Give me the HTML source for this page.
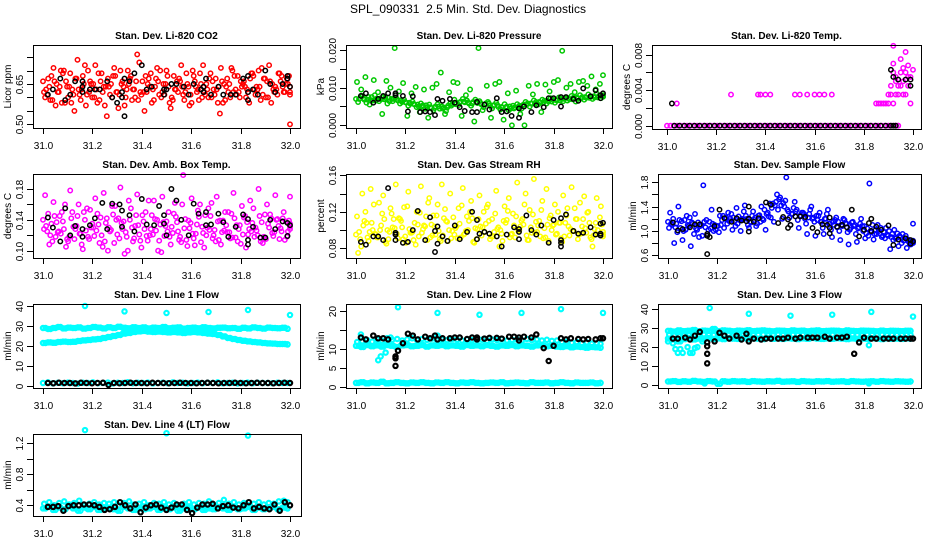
<!DOCTYPE html>
<html><head><meta charset="utf-8"><style>
body{margin:0;background:#fff;}
svg{display:block;font-family:"Liberation Sans",Arial,sans-serif;}
</style></head><body>
<svg id="chart" width="936" height="540" viewBox="0 0 936 540">
<rect width="936" height="540" fill="#fff"/>
<text x="468" y="13" text-anchor="middle" font-size="12">SPL_090331&#160; 2.5 Min. Std. Dev. Diagnostics</text>
</svg>
<script>
// ---------- data ----------
const xTicks=[31.0,31.2,31.4,31.6,31.8,32.0];
const xTickLabels=["31.0","31.2","31.4","31.6","31.8","32.0"];

const co2A=[0.66,0.61,0.68,0.57,0.64,0.70,0.60,0.63,0.67,0.59,0.72,0.62,0.65,0.58,0.69,0.64,0.61,0.71,0.56,0.66,0.63,0.68,0.60,0.73,0.62,0.65,0.58,0.67,0.70,0.61,0.64,0.59,0.66,0.72,0.62,0.57,0.68,0.63,0.60,0.65,0.69,0.61,0.64,0.58,0.67,0.71,0.63,0.60,0.66,0.62,0.69,0.64,0.59,0.67,0.72,0.63,0.61,0.68,0.65,0.62];
const co2B=[0.62,0.67,0.59,0.65,0.70,0.58,0.64,0.61,0.74,0.63,0.57,0.66,0.60,0.69,0.62,0.53,0.65,0.68,0.61,0.64,0.70,0.59,0.66,0.62,0.55,0.67,0.63,0.71,0.60,0.65,0.58,0.68,0.62,0.64,0.69,0.61,0.66,0.59,0.72,0.63,0.60,0.67,0.54,0.65,0.62,0.70,0.61,0.66,0.64,0.58,0.68,0.63,0.71,0.60,0.66,0.62,0.69,0.64,0.67,0.61];
const co2C=[0.60,0.64,0.71,0.62,0.58,0.66,0.69,0.55,0.63,0.68,0.61,0.65,0.72,0.59,0.64,0.67,0.60,0.62,0.70,0.57,0.65,0.63,0.76,0.61,0.68,0.64,0.59,0.66,0.62,0.70,0.56,0.63,0.67,0.61,0.65,0.58,0.64,0.69,0.62,0.60,0.66,0.63,0.71,0.59,0.65,0.62,0.68,0.64,0.60,0.67,0.63,0.70,0.61,0.66,0.58,0.64,0.69,0.62,0.65,0.50];
const co2D=[0.63,0.59,0.66,0.62,0.69,0.64,0.58,0.67,0.61,0.65,0.70,0.60,0.63,0.66,0.57,0.64,0.68,0.62,0.65,0.60,0.67,0.63,0.59,0.66,0.62,0.69,0.64,0.61,0.65,0.68,0.60,0.63,0.66,0.59,0.64,0.70,0.62,0.65,0.61,0.67,0.63,0.58,0.66,0.64,0.60,0.68,0.62,0.65,0.63,0.69,0.61,0.64,0.67,0.60,0.65,0.63,0.66,0.62,0.68,0.64];
const co2Black=[[31.02,0.61],[31.04,0.63],[31.07,0.67],[31.09,0.59],[31.11,0.61],[31.13,0.66],[31.16,0.64],[31.16,0.66],[31.16,0.62],[31.19,0.63],[31.21,0.63],[31.23,0.63],[31.26,0.66],[31.28,0.60],[31.30,0.58],[31.32,0.60],[31.32,0.62],[31.33,0.67],[31.33,0.53],[31.35,0.66],[31.37,0.69],[31.40,0.72],[31.42,0.63],[31.44,0.64],[31.49,0.63],[31.49,0.61],[31.50,0.63],[31.52,0.65],[31.54,0.65],[31.57,0.64],[31.59,0.61],[31.61,0.65],[31.64,0.63],[31.65,0.64],[31.65,0.62],[31.66,0.67],[31.68,0.61],[31.71,0.64],[31.73,0.61],[31.76,0.61],[31.78,0.61],[31.81,0.67],[31.83,0.62],[31.83,0.59],[31.83,0.68],[31.85,0.63],[31.87,0.61],[31.90,0.70],[31.92,0.65],[31.94,0.62],[31.97,0.65],[31.99,0.68],[31.99,0.67],[32.0,0.64]];

const presA=[0.0070,0.0072,0.0068,0.0075,0.0066,0.0071,0.0069,0.0073,0.0064,0.0070,0.0066,0.0062,0.0060,0.0057,0.0055,0.0050,0.0053,0.0048,0.0046,0.0050,0.0044,0.0047,0.0052,0.0056,0.0060,0.0063,0.0061,0.0058,0.0062,0.0059,0.0055,0.0058,0.0052,0.0054,0.0049,0.0047,0.0050,0.0045,0.0048,0.0052,0.0055,0.0058,0.0057,0.0062,0.0060,0.0065,0.0063,0.0068,0.0066,0.0070,0.0072,0.0069,0.0074,0.0071,0.0075,0.0073,0.0077,0.0074,0.0078,0.0076];
const presB=[0.0062,0.0078,0.0060,0.0066,0.0080,0.0064,0.0075,0.0058,0.0070,0.0074,0.0058,0.0068,0.0052,0.0063,0.0048,0.0058,0.0044,0.0055,0.0040,0.0056,0.0050,0.0038,0.0058,0.0068,0.0054,0.0070,0.0066,0.0052,0.0068,0.0064,0.0048,0.0062,0.0045,0.0060,0.0042,0.0056,0.0040,0.0052,0.0056,0.0044,0.0062,0.0050,0.0066,0.0055,0.0068,0.0058,0.0072,0.0060,0.0074,0.0064,0.0066,0.0078,0.0063,0.0080,0.0068,0.0082,0.0070,0.0084,0.0072,0.0080];
const presC=[0.0115,0.0095,0.0128,0.0055,0.0120,0.0088,0.0030,0.0118,0.0100,0.0205,0.0090,0.0112,0.0025,0.0085,0.0102,0.0035,0.0095,0.0020,0.0100,0.0110,0.0140,0.0030,0.0088,0.0115,0.0112,0.0025,0.0080,0.0095,0.0010,0.0205,0.0040,0.0105,0.0020,0.0110,0.0115,0.0015,0.0085,0.0000,0.0092,0.0030,0.0000,0.0105,0.0082,0.0110,0.0035,0.0108,0.0090,0.0115,0.0120,0.0198,0.0100,0.0110,0.0088,0.0115,0.0118,0.0105,0.0130,0.0095,0.0110,0.0133];
const presBlack=[[31.02,0.0078],[31.04,0.0085],[31.07,0.006],[31.09,0.007],[31.11,0.0078],[31.13,0.0085],[31.16,0.008],[31.16,0.0085],[31.19,0.0078],[31.21,0.0037],[31.23,0.0077],[31.26,0.0035],[31.28,0.0037],[31.30,0.0035],[31.32,0.0027],[31.33,0.007],[31.35,0.0065],[31.38,0.007],[31.40,0.006],[31.42,0.0048],[31.44,0.0038],[31.47,0.0035],[31.49,0.0062],[31.49,0.0035],[31.52,0.0055],[31.54,0.0042],[31.57,0.0072],[31.59,0.0035],[31.61,0.0037],[31.63,0.0025],[31.66,0.0045],[31.66,0.002],[31.68,0.005],[31.71,0.0035],[31.73,0.0053],[31.76,0.0048],[31.78,0.0072],[31.80,0.0072],[31.83,0.0075],[31.83,0.0050],[31.85,0.0075],[31.88,0.0070],[31.90,0.0065],[31.92,0.0098],[31.95,0.0077],[31.97,0.0093],[31.99,0.0080],[31.99,0.0072],[32.0,0.0085]];

const tempBase=[0,0,0,0,0,0,0,0,0,0,0,0,0,0,0,0,0,0,0,0,0,0,0,0,0,0,0,0,0,0,0,0,0,0,0,0,0,0,0,0,0,0,0,0,0,0,0,0,0,0,0,0,0,0,0,0,0,0,0,0,0,0,0,0,0,0,0,0,0,0];
const tempPts=[[31.04,0.0025],[31.26,0.0035],[31.37,0.0035],[31.38,0.0035],[31.40,0.0035],[31.42,0.0035],[31.52,0.0035],[31.54,0.0035],[31.57,0.0035],[31.60,0.0035],[31.62,0.0035],[31.64,0.0035],[31.67,0.0035],[31.85,0.0025],[31.86,0.0025],[31.87,0.0025],[31.88,0.0025],[31.89,0.0025],[31.90,0.0025],[31.91,0.0035],[31.91,0.0045],[31.92,0.009],[31.92,0.006],[31.92,0.007],[31.93,0.0035],[31.93,0.005],[31.94,0.0045],[31.94,0.0035],[31.95,0.0075],[31.95,0.006],[31.96,0.0035],[31.96,0.005],[31.97,0.0083],[31.97,0.006],[31.98,0.0045],[31.98,0.0068],[31.99,0.0055],[31.99,0.0025],[32.0,0.0063],[31.96,0.0065],[31.90,0.0035],[31.92,0.0025],[31.93,0.0055],[31.97,0.0035],[31.98,0.0055],[31.95,0.0045],[31.94,0],[31.93,0]];
const tempBlackBase=[0,0,0,0,0,0,0,0,0,0,0,0,0,0,0,0,0,0,0,0,0,0,0,0,0,0,0,0,0,0,0,0,0,0,0,0,0,0,0,0,0,0,0,0,0];
const tempBlackPts=[[31.02,0.0025],[31.91,0.0063],[31.92,0.0055],[31.94,0.0052],[31.97,0.0052],[31.99,0.0052],[31.99,0.0045],[31.92,0]];

const boxA=[0.140,0.125,0.135,0.118,0.145,0.128,0.112,0.150,0.132,0.122,0.140,0.115,0.130,0.148,0.120,0.136,0.125,0.110,0.142,0.128,0.118,0.155,0.132,0.121,0.138,0.113,0.146,0.126,0.134,0.119,0.150,0.123,0.137,0.111,0.141,0.129,0.116,0.152,0.131,0.120,0.145,0.127,0.114,0.139,0.124,0.148,0.117,0.133,0.143,0.121,0.136,0.126,0.112,0.147,0.130,0.119,0.141,0.125,0.138,0.135];
const boxB=[0.128,0.148,0.112,0.137,0.122,0.160,0.118,0.131,0.145,0.108,0.126,0.153,0.119,0.134,0.105,0.142,0.127,0.158,0.116,0.138,0.100,0.130,0.146,0.113,0.128,0.165,0.121,0.140,0.098,0.132,0.118,0.148,0.125,0.160,0.114,0.136,0.107,0.144,0.123,0.130,0.162,0.112,0.139,0.126,0.150,0.117,0.133,0.109,0.145,0.128,0.155,0.120,0.137,0.115,0.147,0.124,0.132,0.142,0.118,0.128];
const boxC=[0.172,0.108,0.163,0.124,0.150,0.105,0.178,0.115,0.160,0.102,0.155,0.130,0.168,0.110,0.175,0.100,0.158,0.140,0.182,0.096,0.165,0.112,0.173,0.104,0.150,0.120,0.165,0.100,0.170,0.138,0.108,0.162,0.114,0.198,0.106,0.168,0.122,0.160,0.104,0.155,0.116,0.170,0.108,0.150,0.124,0.175,0.112,0.158,0.104,0.165,0.118,0.180,0.110,0.160,0.142,0.172,0.115,0.150,0.125,0.170];
const boxD=[0.132,0.120,0.145,0.125,0.138,0.115,0.142,0.128,0.122,0.150,0.118,0.135,0.126,0.143,0.112,0.130,0.147,0.121,0.136,0.124,0.140,0.116,0.133,0.146,0.119,0.128,0.141,0.113,0.137,0.125,0.131,0.144,0.118,0.129,0.139,0.122,0.134,0.111,0.146,0.127,0.120,0.138,0.124,0.133,0.116,0.142,0.128,0.121,0.137,0.125,0.130,0.145,0.118,0.135,0.123,0.140,0.129,0.114,0.139,0.131];
const boxBlack=[[31.02,0.143],[31.04,0.130],[31.07,0.112],[31.09,0.155],[31.11,0.120],[31.13,0.132],[31.16,0.128],[31.16,0.118],[31.19,0.133],[31.21,0.142],[31.24,0.162],[31.26,0.128],[31.28,0.161],[31.31,0.160],[31.32,0.152],[31.32,0.131],[31.35,0.146],[31.37,0.125],[31.40,0.167],[31.42,0.134],[31.45,0.133],[31.47,0.158],[31.49,0.146],[31.49,0.135],[31.50,0.120],[31.52,0.180],[31.54,0.165],[31.56,0.140],[31.59,0.120],[31.61,0.161],[31.63,0.148],[31.66,0.150],[31.66,0.133],[31.68,0.134],[31.71,0.148],[31.73,0.137],[31.75,0.118],[31.78,0.131],[31.81,0.147],[31.83,0.141],[31.83,0.114],[31.83,0.108],[31.85,0.131],[31.88,0.117],[31.90,0.117],[31.92,0.140],[31.94,0.128],[31.97,0.138],[31.99,0.119],[31.99,0.136],[32.0,0.133]];

const rhA=[0.095,0.090,0.110,0.088,0.100,0.092,0.105,0.087,0.098,0.112,0.091,0.103,0.086,0.097,0.108,0.093,0.101,0.089,0.106,0.095,0.090,0.113,0.088,0.099,0.104,0.092,0.096,0.110,0.087,0.101,0.094,0.107,0.090,0.098,0.103,0.088,0.111,0.095,0.092,0.100,0.106,0.089,0.097,0.109,0.093,0.102,0.088,0.105,0.096,0.091,0.108,0.094,0.099,0.090,0.104,0.097,0.092,0.101,0.095,0.093];
const rhB=[0.115,0.082,0.120,0.098,0.128,0.092,0.118,0.085,0.124,0.102,0.113,0.090,0.126,0.097,0.084,0.119,0.105,0.130,0.094,0.116,0.088,0.123,0.100,0.114,0.091,0.127,0.099,0.120,0.086,0.112,0.103,0.125,0.093,0.118,0.082,0.110,0.121,0.096,0.115,0.104,0.128,0.089,0.117,0.098,0.122,0.092,0.113,0.106,0.120,0.087,0.116,0.101,0.124,0.095,0.112,0.119,0.090,0.108,0.114,0.098];
const rhC=[0.075,0.140,0.108,0.145,0.096,0.130,0.138,0.100,0.118,0.150,0.112,0.125,0.142,0.098,0.120,0.148,0.104,0.135,0.116,0.128,0.150,0.110,0.140,0.095,0.124,0.146,0.115,0.132,0.102,0.138,0.120,0.128,0.112,0.143,0.100,0.126,0.135,0.118,0.152,0.110,0.140,0.122,0.156,0.105,0.132,0.145,0.116,0.128,0.108,0.138,0.124,0.147,0.112,0.130,0.137,0.120,0.082,0.135,0.126,0.095];
const rhD=[0.098,0.105,0.092,0.108,0.095,0.100,0.112,0.090,0.103,0.096,0.110,0.093,0.101,0.089,0.106,0.097,0.115,0.092,0.104,0.099,0.094,0.109,0.091,0.102,0.107,0.095,0.100,0.113,0.090,0.104,0.098,0.110,0.093,0.101,0.096,0.108,0.092,0.105,0.099,0.112,0.094,0.103,0.097,0.110,0.091,0.106,0.100,0.095,0.108,0.093,0.104,0.099,0.112,0.096,0.102,0.108,0.094,0.100,0.106,0.098];
const rhBlack=[[31.02,0.087],[31.04,0.084],[31.07,0.093],[31.09,0.093],[31.11,0.089],[31.13,0.146],[31.16,0.097],[31.16,0.095],[31.16,0.089],[31.19,0.086],[31.21,0.087],[31.23,0.100],[31.25,0.121],[31.28,0.089],[31.30,0.114],[31.32,0.099],[31.33,0.104],[31.33,0.085],[31.32,0.076],[31.35,0.093],[31.37,0.088],[31.40,0.105],[31.42,0.090],[31.45,0.098],[31.47,0.120],[31.49,0.111],[31.49,0.090],[31.50,0.096],[31.52,0.098],[31.54,0.096],[31.57,0.093],[31.59,0.082],[31.61,0.095],[31.64,0.103],[31.66,0.101],[31.66,0.098],[31.66,0.090],[31.69,0.116],[31.71,0.100],[31.73,0.095],[31.75,0.105],[31.78,0.086],[31.80,0.111],[31.83,0.113],[31.83,0.089],[31.83,0.086],[31.83,0.082],[31.85,0.117],[31.88,0.099],[31.90,0.096],[31.92,0.097],[31.95,0.103],[31.97,0.095],[31.99,0.096],[31.99,0.107],[32.0,0.108],[31.99,0.094]];

const flowA=[1.15,1.10,1.12,1.05,1.18,1.08,1.12,1.02,1.10,1.06,1.15,1.00,1.08,1.18,1.22,1.20,1.16,1.24,1.18,1.20,1.14,1.22,1.26,1.18,1.30,1.38,1.48,1.55,1.40,1.32,1.28,1.35,1.25,1.20,1.28,1.22,1.18,1.15,1.20,1.12,1.10,1.15,1.08,1.12,1.05,1.10,1.06,1.00,1.04,0.98,1.02,0.96,0.98,0.92,0.95,0.88,0.90,0.85,0.82,0.84];
const flowB=[1.05,1.20,0.98,1.16,1.02,1.22,0.95,1.14,0.92,1.18,1.04,1.10,0.98,1.25,1.12,1.28,1.08,1.18,1.32,1.10,1.25,1.08,1.15,1.35,1.24,1.45,1.60,1.42,1.50,1.22,1.38,1.18,1.30,1.12,1.35,1.15,1.25,1.05,1.28,1.02,1.18,1.00,1.20,0.98,1.14,0.95,1.12,1.08,0.92,1.10,0.95,1.05,0.88,1.00,0.85,0.96,0.80,0.92,0.78,0.80];
const flowC=[1.30,0.80,1.40,0.85,1.25,0.75,1.28,0.90,1.75,0.95,1.35,1.02,1.25,1.05,1.30,1.02,1.38,1.00,1.42,1.05,1.32,1.12,1.40,1.02,1.45,1.15,1.35,1.20,1.88,1.10,1.48,1.05,1.30,0.95,1.40,0.92,1.30,0.95,1.35,0.90,1.22,0.85,1.18,0.78,1.15,0.82,1.20,0.88,1.78,0.86,1.10,0.90,1.05,0.70,1.02,0.75,0.95,0.72,0.78,1.12];
const flowD=[1.12,1.06,1.18,1.00,1.10,1.14,1.04,1.08,1.15,1.02,1.12,1.08,1.10,1.20,1.16,1.22,1.12,1.20,1.25,1.15,1.18,1.25,1.20,1.28,1.22,1.42,1.52,1.46,1.35,1.28,1.32,1.25,1.28,1.22,1.20,1.25,1.15,1.20,1.12,1.15,1.06,1.10,1.12,1.02,1.08,1.04,1.08,0.96,1.00,0.95,1.00,0.92,0.94,0.90,0.88,0.92,0.84,0.86,0.80,0.82];
const flowBlack=[[31.02,1.14],[31.04,1.01],[31.06,1.03],[31.09,1.06],[31.11,1.11],[31.13,1.11],[31.16,0.95],[31.16,0.92],[31.16,0.62],[31.17,0.90],[31.19,1.08],[31.21,1.35],[31.23,1.21],[31.26,1.15],[31.28,1.21],[31.30,1.17],[31.32,1.16],[31.33,1.40],[31.33,1.20],[31.33,0.99],[31.35,1.15],[31.37,1.21],[31.40,1.47],[31.42,1.43],[31.45,1.13],[31.47,1.23],[31.49,1.05],[31.49,1.19],[31.50,1.10],[31.52,1.24],[31.54,1.24],[31.56,1.23],[31.59,1.05],[31.61,0.98],[31.63,1.11],[31.65,1.10],[31.66,1.05],[31.66,0.96],[31.66,1.22],[31.69,1.07],[31.71,1.10],[31.73,1.06],[31.75,1.35],[31.78,0.91],[31.80,1.02],[31.82,1.13],[31.83,1.00],[31.83,1.20],[31.85,1.07],[31.87,1.02],[31.90,1.09],[31.92,0.77],[31.94,0.86],[31.97,0.88],[31.99,0.85],[31.99,0.79],[32.0,0.83]];

const l1Top=[29,28.5,29,29.5,28.8,29.2,29,29.3,28.7,29,29.5,29.2,28.8,29.4,29,29.6,29.1,28.9,29.4,29,29.3,28.8,29.2,29,29.5,28.9,29.1,29.3,28.7,29,29.2,28.9,29.4,29,28.8,29.1,29.2,28.9,29,28.6,29.1,28.8,29.3,29,28.7,29.2,29,28.9,29.1,28.6];
const l1Mid=[21.5,21.8,21.6,22,22.2,22,22.1,22.5,22.8,23,23.3,23.5,24,24.5,25,25.5,26.2,26.5,27,27.3,27.5,27.2,27,27.2,27,26.8,27,26.8,26.5,26.8,27,26.8,26.5,26.2,26,25.5,24.8,24,23.5,23,22.6,22.3,22,21.8,21.5,21.3,21.2,21,21,20.8];
const l1Low=[1.5,1.8,1.3,1.6,1.4,1.7,1.5,1.2,1.6,1.5,1.8,1.4,1.5,1.7,1.3,1.6,1.5,1.9,1.4,1.6,1.5,1.7,1.3,1.5,1.6,1.4,1.8,1.5,1.6,1.3,1.5,1.7,1.4,1.6,1.5,1.8,1.4,1.5,1.6,1.3,1.5,1.7,1.4,1.6,1.5,1.5,1.4,1.6,1.5,1.5];
const l1Out=[[31.17,40],[31.33,37.3],[31.5,36.5],[31.67,37],[31.83,38],[32.0,35.5]];
const l1Black=[1.5,1.4,1.6,1.5,1.5,1.3,1.6,1.5,1.4,1.5,1.6,0.5,1.5,1.4,1.5,1.6,1.5,1.5,1.4,1.6,1.5,1.5,1.4,1.5,1.6,1.5,1.5,1.4,1.5,1.6,1.5,1.4,1.5,1.5,1.6,1.5,1.4,1.5,1.6,1.5,1.5,1.4,1.5,1.6,1.5];

const l2A=[10.8,10.5,11,10.7,10.9,10.6,11,10.8,10.5,10.9,11,10.7,10.8,11,10.6,10.9,10.8,11,10.7,10.9,10.8,10.6,11,10.8,10.9,10.7,11,10.8,10.6,10.9,10.8,11,10.7,10.9,10.8,10.6,10.9,11,10.7,10.8,10.6,10.5,10.7,10.4,10.6,10.5,10.3,10.5,10.4,10.3];
const l2B=[11.8,12,12.3,11.9,12.5,12.1,12.8,12.4,12.6,12.2,12.5,12.8,12.3,12.6,12.4,12.7,12.2,12.5,12.3,12.6,12.4,12.2,12.5,12.3,12.6,12.4,12.1,12.5,12.3,12.6,12.2,12.4,12.5,12.2,12.6,12.3,12.5,12.2,12.4,12.1,12.2,11.8,11.9,11.6,11.8,11.5,11.7,11.4,11.5,11.3];
const l2Low=[1,1.2,0.9,1.1,1,1.3,0.9,1,1.2,1,0.9,1.1,1,1.2,1,0.9,1.1,1,1.2,1,0.9,1.1,1,1.2,1,0.9,1,1.1,1,1.2,0.9,1,1.1,1,0.9,1.2,1,1,1.1,0.9,1,1.2,1,0.9,1.1,1,1,1.1,0.9,1];
const l2Out=[[31.17,21],[31.33,19.5],[31.5,19],[31.67,19.5],[31.83,20.5],[32.0,19.5],[31.02,13.8],[31.09,7],[31.10,8],[31.12,9],[31.14,13],[31.33,13.5]];
const l2Black=[[31.02,13],[31.04,12.5],[31.07,13.5],[31.09,12.8],[31.11,12.8],[31.13,12.5],[31.16,8],[31.16,7.5],[31.16,5.5],[31.17,9.5],[31.19,11.5],[31.21,14],[31.23,13.5],[31.25,12.5],[31.28,13.2],[31.30,12.8],[31.32,13.5],[31.33,12.5],[31.35,12.8],[31.38,12.8],[31.40,13],[31.42,13],[31.45,12.6],[31.47,13],[31.49,13],[31.49,12.5],[31.52,12.7],[31.54,12.9],[31.57,12.9],[31.59,12.7],[31.62,13.2],[31.64,13.2],[31.66,13],[31.66,12.2],[31.68,13.2],[31.71,13],[31.73,13.8],[31.76,10.2],[31.78,6.8],[31.80,10.8],[31.83,12.8],[31.85,12.5],[31.87,12.8],[31.90,12.6],[31.92,12.5],[31.94,12.6],[31.97,12.5],[31.99,12.8],[32.0,12.8]];

const l3A=[28.5,28.2,28.8,28.4,28.6,29,28.3,28.7,28.5,29.5,28.4,28.8,28.6,28.3,28.7,28.5,28.9,28.4,28.6,28.8,28.5,28.3,28.7,28.6,28.4,28.8,28.5,28.7,28.3,28.6,28.8,28.4,28.5,28.7,28.6,28.3,28.8,28.5,28.4,28.7,28.6,28.5,28.3,28.7,28.4,28.6,28.5,28.4,28.6,28.5];
const l3B=[26.5,26,25.8,26.4,26.2,26.6,25.9,26.8,26.5,26.3,26.7,26.4,26.6,26.2,26.8,26.5,26.3,26.7,26.4,26.6,26.2,26.5,26.8,26.3,26.6,26.4,26.7,26.5,26.2,26.6,26.4,26.8,26.3,26.5,26.7,26.2,26.6,26.4,26.5,26.3,26.7,26.5,26.2,26.6,26.4,26.5,26.3,26.6,26.4,26.5];
const l3C=[24.5,24,23,24.2,24.8,24,24.5,24.3,24.8,24.4,24.6,24.2,24.8,24.5,24.3,24.7,24.4,24.6,24.5,24.2,24.8,24.4,24.6,24.3,24.7,24.5,24.2,24.6,24.4,24.8,24.5,24.3,24.6,24.4,24.7,24.5,24.2,24.6,24.4,24.5,24.3,24.7,24.5,24.2,24.6,24.4,24.5,24.3,24.6,24.5];
const l3Low=[2,2.2,1.8,2.1,1.9,2.3,2,1.8,2.2,2,0.8,2.1,1.9,2.2,2,2.1,1.8,2.2,2,1.9,2.1,2,2.3,1.9,2,2.1,1.8,2.2,2,1.9,2.1,2,2.2,1.9,2,2.1,1.8,2.2,2,1.9,2,2.1,1.9,2.2,2,1.9,2.1,2,1.9,2];
const l3Out=[[31.17,40.5],[31.33,37.5],[31.5,36.5],[31.67,37],[31.83,38.5],[32.0,36],[31.0,23],[31.02,22],[31.03,19],[31.04,17],[31.05,19],[31.06,17],[31.08,20],[31.09,17],[31.10,17],[31.11,19.5],[31.12,20],[31.14,23],[31.15,1],[31.82,1],[31.82,21]];
const l3Black=[[31.02,24.5],[31.04,24.5],[31.07,25],[31.09,24],[31.11,26],[31.13,28],[31.16,16.5],[31.16,11.5],[31.16,20.5],[31.16,22.5],[31.19,23],[31.21,27.5],[31.23,26],[31.25,24.5],[31.28,26],[31.30,24],[31.32,27],[31.33,23],[31.35,24.5],[31.38,24],[31.40,24.5],[31.42,24.5],[31.45,24.5],[31.47,24.5],[31.49,25],[31.52,24.5],[31.54,25],[31.57,25],[31.59,25],[31.61,25],[31.64,25.5],[31.66,24.5],[31.69,25],[31.71,25],[31.73,25.5],[31.76,16.5],[31.78,22.5],[31.80,25],[31.83,24.5],[31.85,24.5],[31.88,24.5],[31.90,24.5],[31.92,24.5],[31.95,24.5],[31.97,24.5],[31.99,24.5],[32.0,24.5]];

const l4A=[0.36,0.38,0.34,0.37,0.35,0.39,0.36,0.33,0.37,0.35,0.38,0.34,0.36,0.37,0.35,0.33,0.38,0.36,0.34,0.37,0.35,0.36,0.38,0.34,0.36,0.35,0.37,0.33,0.36,0.38,0.35,0.37,0.34,0.36,0.35,0.38,0.36,0.34,0.37,0.35,0.36,0.38,0.34,0.37,0.35,0.36,0.38,0.35,0.37,0.36];
const l4B=[0.42,0.44,0.40,0.43,0.45,0.41,0.43,0.46,0.40,0.42,0.44,0.41,0.43,0.42,0.44,0.40,0.43,0.45,0.41,0.42,0.44,0.40,0.43,0.42,0.44,0.41,0.43,0.40,0.42,0.44,0.41,0.43,0.42,0.45,0.40,0.43,0.47,0.42,0.44,0.41,0.43,0.40,0.42,0.44,0.41,0.43,0.42,0.45,0.46,0.44];
const l4Out=[[31.17,1.37],[31.5,1.33],[31.83,1.30]];
const l4Black=[0.38,0.38,0.39,0.33,0.39,0.40,0.40,0.41,0.41,0.40,0.38,0.34,0.35,0.38,0.44,0.40,0.36,0.41,0.31,0.37,0.40,0.41,0.37,0.34,0.37,0.41,0.41,0.34,0.30,0.37,0.41,0.41,0.42,0.36,0.39,0.40,0.37,0.36,0.40,0.44,0.36,0.38,0.36,0.35,0.41,0.33,0.44,0.40];

// ---------- layout ----------
const RED="#ff0000",GRN="#00c800",MAG="#ff00ff",YEL="#ffff00",BLU="#0000ff",CYN="#00ffff",BLK="#000000";
const panels=[
 {name:"co2",title:"Stan. Dev. Li-820 CO2",ylab:"Licor ppm",box:[33,300,45,128],px:[43,290],ymap:[0.50,124.3,0.65,84],yticks:[0.50,0.55,0.60,0.65,0.70,0.75],ylabels:{"0.5":"0.50","0.65":"0.65"},
  series:[{c:RED,v:co2A,o:0},{c:RED,v:co2B,o:0.25},{c:RED,v:co2C,o:0.5},{c:RED,v:co2D,o:0.75},{c:BLK,p:co2Black}]},
 {name:"pressure",title:"Stan. Dev. Li-820 Pressure",ylab:"kPa",box:[346,612,45,128],px:[356,603],ymap:[0,125.3,0.02,50],yticks:[0,0.005,0.01,0.015,0.02],ylabels:{"0":"0.000","0.01":"0.010","0.02":"0.020"},
  series:[{c:GRN,v:presA,o:0},{c:GRN,v:presB,o:0.5},{c:GRN,v:presA,o:0.75},{c:GRN,v:presC,o:0.25},{c:BLK,p:presBlack}]},
 {name:"temp",title:"Stan. Dev. Li-820 Temp.",ylab:"degrees C",box:[652,921,45,129],px:[667,913],ymap:[0,125.7,0.008,54.7],yticks:[0,0.002,0.004,0.006,0.008],ylabels:{"0":"0.000","0.004":"0.004","0.008":"0.008"},
  series:[{c:MAG,v:tempBase,o:0,x0:31.0,x1:31.94},{c:MAG,p:tempPts},{c:BLK,v:tempBlackBase,o:0,x0:31.03,x1:31.93},{c:BLK,p:tempBlackPts}]},
 {name:"amb-box-temp",title:"Stan. Dev. Amb. Box Temp.",ylab:"degrees C",box:[33,300,174,258],px:[43,290],ymap:[0.10,250.7,0.18,189],yticks:[0.10,0.12,0.14,0.16,0.18],ylabels:{"0.1":"0.10","0.14":"0.14","0.18":"0.18"},
  series:[{c:MAG,v:boxA,o:0},{c:MAG,v:boxB,o:0.25},{c:MAG,v:boxC,o:0.5},{c:MAG,v:boxD,o:0.75},{c:BLK,p:boxBlack}]},
 {name:"gas-rh",title:"Stan. Dev. Gas Stream RH",ylab:"percent",box:[346,612,174,258],px:[356,603],ymap:[0.08,248.3,0.16,175.3],yticks:[0.08,0.10,0.12,0.14,0.16],ylabels:{"0.08":"0.08","0.12":"0.12","0.16":"0.16"},
  series:[{c:YEL,v:rhA,o:0},{c:YEL,v:rhB,o:0.25},{c:YEL,v:rhC,o:0.5},{c:YEL,v:rhD,o:0.75},{c:BLK,p:rhBlack}]},
 {name:"sample-flow",title:"Stan. Dev. Sample Flow",ylab:"ml/min",box:[658,921,174,258],px:[668,913],ymap:[0.6,255.3,1.8,182.3],yticks:[0.6,0.8,1.0,1.2,1.4,1.6,1.8],ylabels:{"0.6":"0.6","1":"1.0","1.4":"1.4","1.8":"1.8"},
  series:[{c:BLU,v:flowA,o:0},{c:BLU,v:flowB,o:0.25},{c:BLU,v:flowC,o:0.5},{c:BLU,v:flowD,o:0.75},{c:BLK,p:flowBlack}]},
 {name:"line1-flow",title:"Stan. Dev. Line 1 Flow",ylab:"ml/min",box:[33,300,304,388],px:[43,290],ymap:[0,386,40,306],yticks:[0,10,20,30,40],ylabels:{"0":"0","10":"10","20":"20","30":"30","40":"40"},band:true,
  series:[{c:CYN,v:l1Top,o:0,x1:31.99},{c:CYN,v:l1Top,o:0.5,x1:31.99},{c:CYN,v:l1Mid,o:0,x1:31.99},{c:CYN,v:l1Mid,o:0.5,x1:31.99},{c:CYN,v:l1Low,o:0,x1:31.99},{c:CYN,p:l1Out},{c:BLK,v:l1Black,o:0,x0:31.02,x1:32.0}]},
 {name:"line2-flow",title:"Stan. Dev. Line 2 Flow",ylab:"ml/min",box:[346,612,304,388],px:[356,603],ymap:[0,386.7,20,311],yticks:[0,5,10,15,20],ylabels:{"0":"0","5":"5","10":"10","20":"20"},band:true,
  series:[{c:CYN,v:l2A,o:0,x1:31.99},{c:CYN,v:l2A,o:0.5,x1:31.99},{c:CYN,v:l2B,o:0.25,x1:31.99},{c:CYN,v:l2Low,o:0,x1:31.99},{c:CYN,v:l2Low,o:0.5,x1:31.99},{c:CYN,p:l2Out},{c:BLK,p:l2Black}]},
 {name:"line3-flow",title:"Stan. Dev. Line 3 Flow",ylab:"ml/min",box:[658,921,304,388],px:[668,913],ymap:[0,385.3,40,309],yticks:[0,10,20,30,40],ylabels:{"0":"0","10":"10","20":"20","30":"30","40":"40"},band:true,
  series:[{c:CYN,v:l3A,o:0,x1:31.99},{c:CYN,v:l3A,o:0.5,x1:31.99},{c:CYN,v:l3B,o:0.25,x1:31.99},{c:CYN,v:l3C,o:0,x1:31.99},{c:CYN,v:l3C,o:0.5,x1:31.99},{c:CYN,v:l3Low,o:0,x1:31.99},{c:CYN,v:l3Low,o:0.5,x1:31.99},{c:CYN,p:l3Out},{c:BLK,p:l3Black}]},
 {name:"line4-flow",title:"Stan. Dev. Line 4 (LT) Flow",ylab:"ml/min",box:[33,301,434,516],px:[43,290],ymap:[0.4,505.3,1.2,443.3],yticks:[0.4,0.6,0.8,1.0,1.2],ylabels:{"0.4":"0.4","0.8":"0.8","1.2":"1.2"},band:true,
  series:[{c:CYN,v:l4A,o:0,x1:31.99},{c:CYN,v:l4A,o:0.5,x1:31.99},{c:CYN,v:l4B,o:0.25,x1:31.99},{c:CYN,p:l4Out},{c:BLK,v:l4Black,o:0,x0:31.02,x1:32.0}]}
];

const NS="http://www.w3.org/2000/svg";
const svg=document.getElementById('chart');
function mk(tag,attrs,parent){const e=document.createElementNS(NS,tag);for(const k in attrs)e.setAttribute(k,attrs[k]);(parent||svg).appendChild(e);return e;}

panels.forEach(P=>{
  const g=mk('g',{});
  
  
  const [bx0,bx1,by0,by1]=P.box;
  const xs=v=>P.px[0]+(v-31)*(P.px[1]-P.px[0]);
  const ys=v=>P.ymap[1]+(v-P.ymap[0])*(P.ymap[3]-P.ymap[1])/(P.ymap[2]-P.ymap[0]);
  const cx=(bx0+bx1)/2;
  const t=mk('text',{x:cx,y:by0-6,'text-anchor':'middle','font-size':'10','font-weight':'bold'},g);
  t.textContent=P.title;
  
  
  const pg=mk('g',{fill:'none'},g);
  
  
  const sw=P.band?2.1:1.5;
  P.series.forEach(s=>{
    let pts=[];
    if(s.p){pts=s.p;}
    else{const n=s.v.length,x0=s.x0??31.0,x1=s.x1??32.0;const step=(x1-x0)/(n-1);
      s.v.forEach((y,i)=>{let x=x0+(i+(s.o||0))*step;if(x>x1)x=x1;pts.push([x,y]);});}
    pts.forEach(([x,y])=>{
      const c=mk('circle',{cx:xs(x).toFixed(1),cy:ys(y).toFixed(1),r:2.2,stroke:s.c,'stroke-width':sw},pg);
      
      
    });
  });
  const b=mk('rect',{x:bx0+0.5,y:by0+0.5,width:bx1-bx0,height:by1-by0,fill:'none',stroke:'#000','stroke-width':1},g);
  
  
  const xa=mk('g',{},g);
  
  
  mk('line',{x1:xs(xTicks[0]),x2:xs(xTicks[xTicks.length-1]),y1:by1+0.5,y2:by1+0.5,stroke:'#000'},xa);
  xTicks.forEach((v,i)=>{
    const X=Math.round(xs(v))+0.5;
    mk('line',{x1:X,x2:X,y1:by1,y2:by1+6,stroke:'#000'},xa);
    const l=mk('text',{x:X,y:by1+21,'text-anchor':'middle','font-size':'10'},xa);
    l.textContent=xTickLabels[i];
    
    
  });
  const ya=mk('g',{},g);
  
  
  const yt=P.yticks;
  mk('line',{x1:bx0+0.5,x2:bx0+0.5,y1:ys(yt[0]),y2:ys(yt[yt.length-1]),stroke:'#000'},ya);
  yt.forEach(v=>{
    const Y=Math.round(ys(v))+0.5;
    mk('line',{x1:bx0-6,x2:bx0,y1:Y,y2:Y,stroke:'#000'},ya);
    const key=String(+v.toFixed(4));
    if(P.ylabels[key]!==undefined){
      const l=mk('text',{x:0,y:0,'text-anchor':'middle','font-size':'10',transform:`translate(${bx0-10},${Y}) rotate(-90)`},ya);
      l.textContent=P.ylabels[key];
      
      
    }
  });
  const yl=mk('text',{x:0,y:0,'text-anchor':'middle','font-size':'10',transform:`translate(${bx0-22},${(by0+by1)/2}) rotate(-90)`},g);
  yl.textContent=P.ylab;
  
  
});
</script>
</body></html>
